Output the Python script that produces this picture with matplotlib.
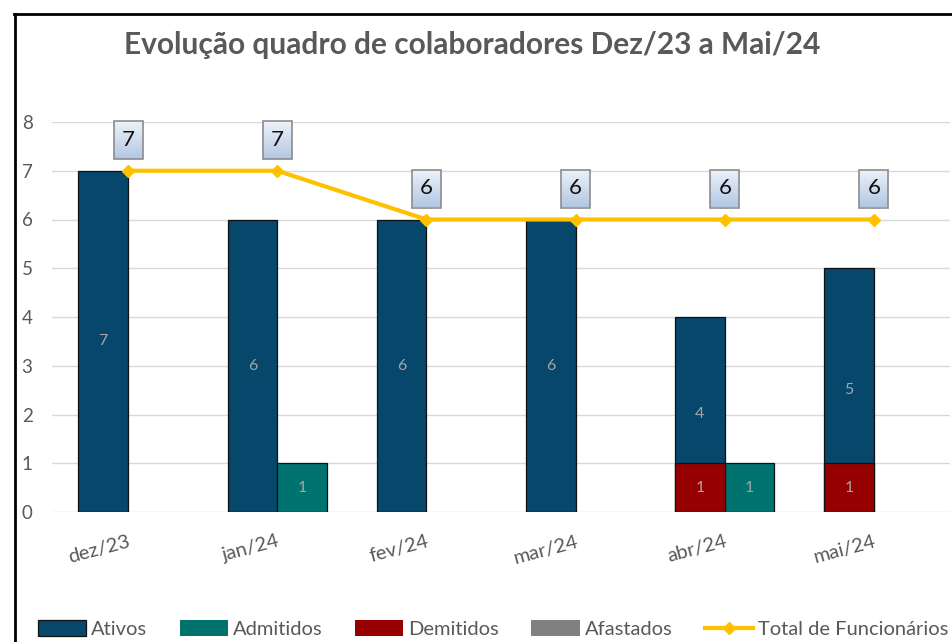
import matplotlib
matplotlib.use('Agg')

import numpy as np
import matplotlib.pyplot as plt
from matplotlib.lines import Line2D
from matplotlib.patches import Rectangle

# dados do quadro
meses = ['dez/23', 'jan/24', 'fev/24', 'mar/24', 'abr/24', 'mai/24']
ativos = [7, 6, 6, 6, 4, 5]
admitidos = [0, 1, 0, 0, 1, 0]
demitidos = [0, 0, 0, 0, 1, 1]
afastados = [0, 0, 0, 0, 0, 0]
total_func = [7, 7, 6, 6, 6, 6]

titulo = 'Evolução quadro de colaboradores Dez/23 a Mai/24'

plt.rcParams['font.family'] = ['Lato', 'DejaVu Sans']
cinza = '#595959'

fig = plt.figure(figsize=(9.52, 6.42), dpi=100)
ax = fig.add_axes([52/952, 1 - 512/642, 898/952, 390/642])

x = np.arange(len(meses))
w = 1/3

def lw_list(vals):
    return [0.9 if v else 0 for v in vals]

b_at = ax.bar(x - w/2, ativos, w, color='#06476b', edgecolor='#111111',
              linewidth=lw_list(ativos), label='Ativos', zorder=2)
b_ad = ax.bar(x + w/2, admitidos, w, color='#00736e', edgecolor='#111111',
              linewidth=lw_list(admitidos), label='Admitidos', zorder=2)
b_de = ax.bar(x - w/2, demitidos, w, color='#960000', edgecolor='#111111',
              linewidth=lw_list(demitidos), label='Demitidos', zorder=3)
b_af = ax.bar(x + w/2, afastados, w, color='#808080', edgecolor='#111111',
              linewidth=lw_list(afastados), label='Afastados', zorder=2)

# rótulos dentro das barras
for bars, vals in [(b_at, ativos), (b_ad, admitidos), (b_de, demitidos)]:
    for r, v in zip(bars, vals):
        if v:
            ax.text(r.get_x() + r.get_width()/2, v/2, str(v), ha='center',
                    va='center', color='#a6a6a6', fontsize=11.5, zorder=4)

ax.plot(x, total_func, color='#ffc000', lw=3, marker='D', ms=6,
        label='Total de Funcionários', zorder=5)

# caixas com gradiente acima da linha
px_x = 898 / (len(meses) + 0.02)
px_y = 390 / 8
bw, bh, gap = 29 / px_x, 38 / px_y, 12 / px_y
grad = np.linspace(0, 1, 64).reshape(-1, 1)
top_c = np.array([0.93, 0.95, 0.98])
bot_c = np.array([0.70, 0.78, 0.89])
img = top_c + (bot_c - top_c) * grad[:, :, None] * np.ones((1, 2, 1))
for xi, v in zip(x, total_func):
    x0, y0 = xi - bw/2, v + gap
    ax.imshow(img, extent=[x0, x0 + bw, y0, y0 + bh], aspect='auto',
              zorder=6, clip_on=False, origin='upper', interpolation='bilinear')
    ax.add_patch(Rectangle((x0, y0), bw, bh, fill=False, edgecolor='#8c8c8c',
                           lw=1.2, zorder=7, clip_on=False))
    ax.text(xi, y0 + bh/2, str(v), ha='center', va='center', fontsize=16,
            color='#111111', zorder=8, clip_on=False)

ax.set_xlim(-0.51, len(meses) - 0.49)
ax.set_ylim(0, 8)

ax.set_yticks(range(0, 9))
ax.yaxis.grid(True, color='#d9d9d9', lw=1)
ax.set_axisbelow(True)
for s in ax.spines.values():
    s.set_visible(False)
ax.tick_params(axis='y', length=0, pad=14, labelsize=13.5, labelcolor=cinza)
ax.tick_params(axis='x', length=0, pad=15, labelsize=14.5, labelcolor=cinza)
ax.set_xticks(x)
ax.set_xticklabels(meses, rotation=15, ha='right', rotation_mode='anchor')

fig.text(0.496, 1 - 45/642, titulo, ha='center', va='center', fontsize=21.5,
         fontweight='bold', color=cinza)

h, l = ax.get_legend_handles_labels()
# ordem da legenda: barras primeiro, linha por último
h = h[1:] + h[:1]
l = l[1:] + l[:1]
fig.legend(h, l, loc='lower center', bbox_to_anchor=(0.518, -0.022), ncol=5,
           frameon=False, fontsize=14.5, handlelength=2.4, handleheight=0.8,
           columnspacing=1.6, handletextpad=0.25, labelcolor=cinza)

# moldura do gráfico
fig.add_artist(Line2D([14/952, 1], [1 - 14/642, 1 - 14/642], color='black', lw=2))
fig.add_artist(Line2D([15/952, 15/952], [1 - 14/642, 0], color='black', lw=2))

fig.savefig('out.png', dpi=100)
